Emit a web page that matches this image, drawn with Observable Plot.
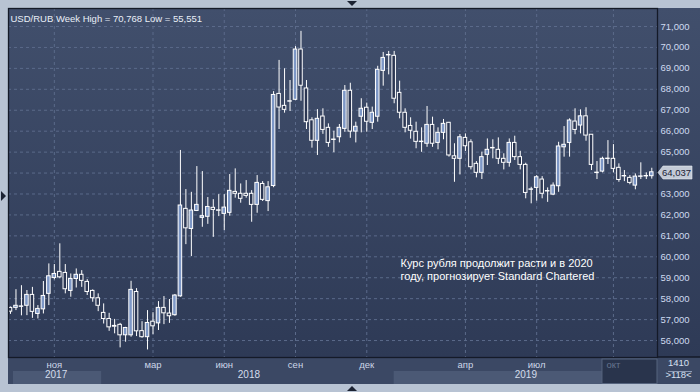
<!DOCTYPE html>
<html><head><meta charset="utf-8">
<script src="https://cdn.jsdelivr.net/npm/d3@7"></script>
<script src="https://cdn.jsdelivr.net/npm/@observablehq/plot@0.6"></script>
<style>
html,body{margin:0;padding:0;background:#b8c3d3;}
#wrap{position:relative;width:700px;height:392px;overflow:hidden;background:#b8c3d3;font-family:"Liberation Sans",Arial,sans-serif;}
#bg{position:absolute;left:8px;top:8px;width:692px;height:349px;background:linear-gradient(#414f6c,#2e3a56);}
#band{position:absolute;left:8px;top:357px;width:692px;height:27px;background:#3b4864;}
#chart{position:absolute;left:0;top:0;}
.tri{position:absolute;width:0;height:0;}
</style></head><body>
<div id="wrap"><div id="bg"></div><div id="band"></div><div id="chart"></div>
<div class="tri" style="left:347px;top:1px;border-left:5px solid transparent;border-right:5px solid transparent;border-top:5px solid #1c2333"></div>
<div class="tri" style="left:347px;top:386px;border-left:5px solid transparent;border-right:5px solid transparent;border-bottom:5px solid #1c2333"></div>
<div class="tri" style="left:1px;top:191px;border-top:5px solid transparent;border-bottom:5px solid transparent;border-left:5px solid #1c2333"></div>
</div>
<script>
const openP = [57.56,57.56,57.61,57.66,58.18,57.27,57.49,58.23,58.99,59.28,
59.23,58.37,58.94,59.14,58.80,58.37,58.02,57.32,57.03,56.70,
56.75,56.25,56.25,58.32,56.45,56.16,56.90,56.82,57.56,57.29,
57.21,58.11,62.29,61.33,62.19,61.86,61.91,62.34,62.20,62.05,
62.10,63.10,63.01,63.01,63.01,62.48,63.48,62.66,63.38,67.78,
67.21,67.41,67.50,69.90,68.04,66.52,65.54,66.70,66.16,65.58,
65.71,66.11,67.93,65.98,66.69,67.12,66.40,66.69,68.88,69.62,
69.60,67.83,66.88,66.25,65.97,65.48,65.40,66.30,65.44,65.92,
66.40,64.80,64.68,65.68,65.47,64.44,64.01,64.87,65.18,65.11,
64.68,64.49,65.44,64.76,64.39,63.20,63.29,63.69,63.12,62.97,
63.37,65.23,65.44,66.46,66.27,66.71,65.83,64.00,64.07,64.67,
64.68,64.25,63.84,63.77,63.40,63.82,63.84,63.85];
const highP = [57.60,58.43,58.62,58.39,58.54,57.67,58.82,59.66,59.63,60.62,
59.63,59.18,59.42,59.34,58.91,58.42,58.23,57.75,57.30,57.01,
56.82,56.63,58.83,58.48,56.90,57.43,57.33,57.86,58.10,57.96,
58.20,65.08,63.21,63.08,64.31,64.07,62.83,62.73,62.97,62.97,
63.93,64.20,63.48,63.64,63.16,63.88,63.59,63.59,67.89,69.38,
68.98,68.42,70.04,70.768,68.42,66.64,67.03,67.07,66.35,66.00,
66.32,68.18,68.29,66.43,67.55,67.34,67.15,69.10,69.76,69.81,
69.81,68.39,67.07,66.64,66.43,66.16,67.18,66.67,66.16,66.56,
66.42,65.40,65.84,65.87,65.59,64.55,65.00,65.63,65.59,65.68,
64.92,65.63,65.76,65.04,64.47,63.32,63.88,63.83,63.29,63.53,
65.47,66.22,66.59,67.07,67.02,67.12,65.83,64.55,64.76,65.55,
65.36,64.44,64.12,63.88,63.96,64.49,64.01,64.23];
const lowP = [57.25,57.43,57.18,57.19,57.06,57.03,57.27,57.67,58.90,58.95,
58.23,58.07,58.51,58.54,58.15,57.83,57.38,56.79,56.44,56.32,
55.65,55.92,56.16,56.19,56.11,55.551,56.28,56.48,56.76,56.82,
57.16,58.07,60.58,60.01,62.16,61.41,61.55,60.93,61.92,61.25,
61.94,62.80,62.56,62.80,61.65,62.08,62.64,62.16,63.30,66.08,
66.86,66.94,67.46,67.43,66.08,65.19,64.84,65.85,65.23,64.97,
65.44,65.95,65.66,65.44,65.92,65.95,66.08,66.43,68.15,68.69,
67.31,66.59,65.92,65.62,65.16,64.99,65.23,65.23,65.11,65.59,
64.76,63.56,63.91,65.03,64.15,63.77,63.69,64.36,64.68,64.41,
64.15,64.28,64.60,64.15,62.77,62.53,62.66,62.77,62.60,62.92,
63.08,64.76,64.76,65.83,65.87,65.52,64.12,63.69,64.01,64.41,
64.01,63.56,63.59,63.44,63.20,63.69,63.69,63.71];
const closeP = [57.38,57.66,57.63,58.18,57.37,57.51,58.13,59.07,59.18,59.02,
58.45,58.94,59.14,58.85,58.32,58.02,57.66,57.03,56.63,56.66,
56.25,56.60,58.42,56.44,56.16,56.84,56.68,57.56,57.30,57.16,
58.15,62.45,61.36,62.21,62.48,61.94,62.38,62.24,62.22,62.35,
63.15,63.01,62.77,62.91,62.48,63.53,62.72,63.32,67.73,67.13,
67.02,67.43,69.90,68.17,66.43,65.54,66.59,66.06,65.44,65.60,
66.16,67.93,65.98,66.21,67.07,66.45,66.88,68.93,69.50,69.64,
67.55,66.88,66.16,66.02,65.49,65.50,66.30,65.40,65.92,66.35,
64.84,64.68,65.71,65.28,64.28,64.01,64.76,65.11,65.20,64.68,
64.49,65.44,64.76,64.39,63.05,63.22,63.80,63.01,63.14,63.40,
65.27,65.35,66.51,66.06,66.71,65.79,64.39,64.02,64.68,64.69,
64.20,63.67,63.86,63.53,63.83,63.84,63.86,64.037];

const yTicks = [56,57,58,59,60,61,62,63,64,65,66,67,68,69,70,71];
const yLabelTicks = [56,57,58,59,60,61,62,63,65,66,67,68,69,70,71];
const monthLabels = ["ноя","мар","июн","сен","дек","апр","июл","окт"];
const monthDates = ["2017-10-30","2018-03-05","2018-06-04","2018-09-03","2018-12-03","2019-04-08","2019-07-08","2019-10-14"];
const dimMonth = "окт";
const yearLabels = ["2017","2018","2019"];
const yearBreaks = ["2018-01-01","2019-01-07"];
const currentStart = "2019-09-30";
const annotation = "Курс рубля продолжит расти и в 2020\nгоду, прогнозирует Standard Chartered";
const barsLabel = "1410";

const weeks = d3.utcMonday.range(new Date("2017-09-04"), new Date("2019-12-03"));
const rows = weeks.map((date, i) => ({date, open: openP[i], high: highP[i], low: lowP[i], close: closeP[i]}));
const fmt = v => v.toFixed(3).replace(".", ",");
const x0 = d3.utcHour.offset(weeks[0], -61);
const x1 = d3.utcHour.offset(weeks[weeks.length - 1], 175);
const months = monthLabels.map((label, i) => ({label, date: new Date(monthDates[i])}));
const bounds = [x0, ...yearBreaks.map(d => new Date(d)), x1];
const years = yearLabels.map((year, i) => ({year, start: bounds[i], end: bounds[i + 1], mid: new Date((+bounds[i] + +bounds[i + 1]) / 2)}));
const title = `USD/RUB Week High = ${fmt(d3.max(highP))} Low = ${fmt(d3.min(lowP))}`;
const lastClose = closeP[closeP.length - 1];

const upFill = "#7d97c6", dnFill = "#2b3652", grid = "#5b6a8a", txt = "#cfdaf0";
const FF = "Liberation Sans, Arial, sans-serif";

const chart = Plot.plot({
  width: 700, height: 392,
  marginLeft: 8, marginRight: 43, marginTop: 8, marginBottom: 35,
  style: {background: "transparent", fontFamily: FF, overflow: "visible"},
  x: {type: "utc", domain: [x0, x1], axis: null},
  y: {domain: [55.19, 71.86]},
  marks: [
    Plot.gridY(yTicks, {stroke: grid, strokeOpacity: 1, strokeDasharray: "3,3"}),
    Plot.gridX(months.map(d => d.date), {stroke: grid, strokeOpacity: 1, strokeDasharray: "3,3"}),
    Plot.ruleX(rows, {x: "date", y1: "low", y2: "high", stroke: "#ffffff", strokeWidth: 1, clip: true}),
    Plot.rect(rows.filter(d => d.close >= d.open), {x1: d => d3.utcHour.offset(d.date, -54), x2: d => d3.utcHour.offset(d.date, 54), y1: "open", y2: "close", fill: upFill, stroke: "#ffffff", strokeWidth: 1, clip: true}),
    Plot.rect(rows.filter(d => d.close < d.open), {x1: d => d3.utcHour.offset(d.date, -54), x2: d => d3.utcHour.offset(d.date, 54), y1: "open", y2: "close", fill: dnFill, stroke: "#ffffff", strokeWidth: 1, clip: true}),
    Plot.frame({stroke: "#141a28", strokeWidth: 1.3}),
    Plot.axisY(yLabelTicks, {anchor: "right", tickSize: 0, tickPadding: 3, tickFormat: fmt, textAnchor: "start", fill: txt, fontSize: 9.5, label: null}),
    Plot.rect(years.filter((d, i) => i === 0), {x1: "start", x2: "end", insetLeft: 5, insetRight: 2, insetTop: 363, insetBottom: -27, fill: "#4b5975"}),
    Plot.rect(years.filter((d, i) => i === 2), {x1: "start", x2: "end", insetLeft: 0, insetRight: 0, insetTop: 363, insetBottom: -27, fill: "#4b5975"}),
    Plot.rect([{start: new Date(currentStart), end: x1}], {x1: "start", x2: "end", insetTop: 351, insetBottom: -26.5, fill: "#29344c", stroke: "#56647e", strokeWidth: 1}),
    Plot.text(months.filter(d => d.label !== dimMonth), {x: "date", text: "label", frameAnchor: "bottom", dy: 10, fill: "#ccd6e8", fontSize: 9.5}),
    Plot.text(months.filter(d => d.label === dimMonth), {x: "date", text: "label", frameAnchor: "bottom", dy: 10, fill: "#66758f", fontSize: 9.5}),
    Plot.text(years, {x: "mid", text: "year", frameAnchor: "bottom", dy: 20, fill: "#d4ddec", fontSize: 10}),
    Plot.text([title], {frameAnchor: "top-left", dx: 2, dy: 7, textAnchor: "start", fill: "#e9eef7", fontSize: 9.5}),
    Plot.text([annotation], {frameAnchor: "top-left", dx: 392, dy: 260.5, textAnchor: "start", lineAnchor: "middle", lineHeight: 1.18, fill: "#ffffff", fontSize: 11}),
    Plot.text([barsLabel], {frameAnchor: "bottom-right", dx: 21, dy: 8, textAnchor: "middle", fill: "#d6e0f0", fontSize: 9.5}),
    Plot.text([`>${rows.length}<`], {frameAnchor: "bottom-right", dx: 21, dy: 20, textAnchor: "middle", fill: "#d6e0f0", fontSize: 9.5}),
    (index, scales, values, dims) => {
      const g = d3.create("svg:g");
      const xr = dims.width - dims.marginRight;
      const yb = dims.height - dims.marginBottom;
      g.append("line").attr("x1", xr).attr("x2", dims.width).attr("y1", yb).attr("y2", yb).attr("stroke", "#141a28").attr("stroke-width", 1.3);
      g.append("line").attr("x1", xr + 11).attr("x2", xr + 35).attr("y1", yb + 14.5).attr("y2", yb + 14.5).attr("stroke", "#8e9bb4").attr("stroke-width", 1);
      const yc = Math.round(scales.y(lastClose)) + 0.5;
      g.append("path")
        .attr("d", `M${xr + 1},${yc} L${xr + 6},${yc - 6.5} H${xr + 35} V${yc + 6.5} H${xr + 6} Z`)
        .attr("fill", "#c3cad6").attr("stroke", "#e8ecf2").attr("stroke-width", 0.6);
      g.append("text").attr("x", xr + 5).attr("y", yc).attr("dy", "0.35em").attr("text-anchor", "start")
        .attr("fill", "#1b2334").attr("font-size", 9.5).attr("font-family", FF).text(fmt(lastClose));
      return g.node();
    }
  ]
});
document.getElementById("chart").appendChild(chart);
</script>
</body></html>
